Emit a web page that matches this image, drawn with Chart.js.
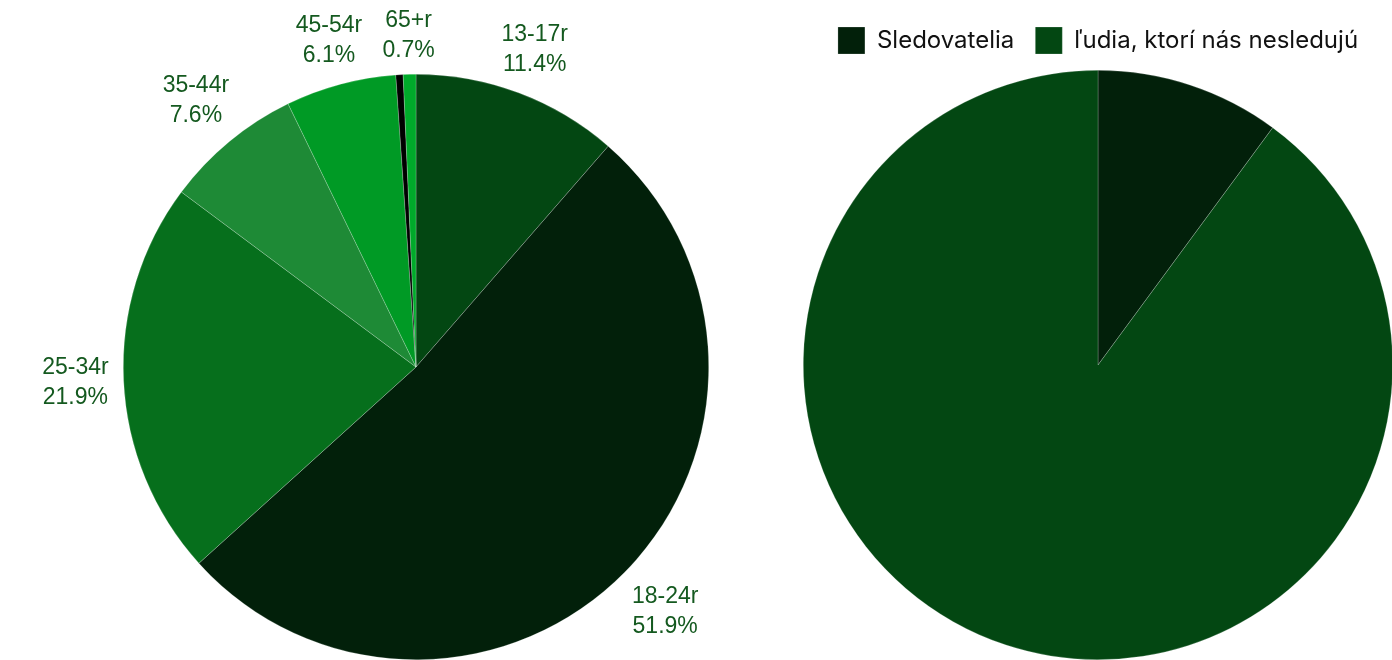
<!DOCTYPE html>
<html>
<head>
<meta charset="utf-8">
<script src="https://cdn.jsdelivr.net/npm/chart.js@4/dist/chart.umd.min.js"></script>
<style>
  html, body { margin: 0; padding: 0; background: #fff; }
  body { width: 1392px; height: 660px; position: relative; overflow: hidden; }
  #ageBox { position: absolute; left: 0; top: 0; width: 832px; height: 660px; }
  #reachBox { position: absolute; left: 803px; top: 0; width: 590px; height: 660px; }
</style>
</head>
<body>
<div id="ageBox"><canvas id="age"></canvas></div>
<div id="reachBox"><canvas id="reach"></canvas></div>
<script>
// vekove skupiny (left pie), the unlabeled black sliver has no name
var ageLabels = ['13-17r', '18-24r', '25-34r', '35-44r', '45-54r', '', '65+r'];
var ageValues = [11.4, 51.9, 21.9, 7.6, 6.1, 0.4, 0.7];
var ageColors = ['#034712', '#02200a', '#066f1c', '#1e8a36', '#009a25', '#000000', '#00aa2a'];

// dosah (right pie)
var reachLabels = ['Sledovatelia', 'ľudia, ktorí nás nesledujú'];
var reachValues = [10.1, 89.9];
var reachColors = ['#02200a', '#034712'];

// draws "name / xx.x%" outside each slice, box pushed out from the rim
var outsideLabels = {
  id: 'outsideLabels',
  afterDatasetsDraw: function(chart) {
    var ctx = chart.ctx;
    var meta = chart.getDatasetMeta(0);
    ctx.save();
    ctx.font = '23px "Liberation Sans", Arial, sans-serif';
    ctx.fillStyle = '#14591f';
    ctx.textAlign = 'center';
    ctx.textBaseline = 'middle';
    meta.data.forEach(function(arc, i) {
      if (!ageLabels[i]) return;
      var top = ageLabels[i];
      var bottom = ageValues[i].toFixed(1) + '%';
      var hw = Math.max(ctx.measureText(top).width, ctx.measureText(bottom).width) / 2;
      var hh = 29;
      var mid = (arc.startAngle + arc.endAngle) / 2;
      var vx = Math.cos(mid), vy = Math.sin(mid);
      var push = Math.min(Math.abs(vx) > 1e-6 ? hw / Math.abs(vx) : 1e9,
                          Math.abs(vy) > 1e-6 ? hh / Math.abs(vy) : 1e9);
      var r = arc.outerRadius + 15 + push;
      var x = arc.x + vx * r;
      var y = Math.max(arc.y + vy * r, 36);
      ctx.fillText(top, x, y - 15);
      ctx.fillText(bottom, x, y + 15);
    });
    ctx.restore();
  }
};

// a bit more room under the legend
var legendSpace = {
  id: 'legendSpace',
  beforeInit: function(chart) {
    var fit = chart.legend.fit;
    chart.legend.fit = function() {
      fit.bind(chart.legend)();
      this.height += 6;
    };
  }
};

window.onload = function() {
  new Chart(document.getElementById('age').getContext('2d'), {
    type: 'pie',
    data: {
      labels: ageLabels,
      datasets: [{
        data: ageValues,
        backgroundColor: ageColors,
        borderColor: 'rgba(255,255,255,0.35)',
        borderWidth: 0.6
      }]
    },
    options: {
      responsive: true,
      maintainAspectRatio: false,
      animation: false,
      layout: { padding: { top: 74, bottom: 0, left: 123, right: 123 } },
      plugins: { legend: { display: false }, tooltip: { enabled: false } }
    },
    plugins: [outsideLabels]
  });

  new Chart(document.getElementById('reach').getContext('2d'), {
    type: 'pie',
    data: {
      labels: reachLabels,
      datasets: [{
        data: reachValues,
        backgroundColor: reachColors,
        borderColor: 'rgba(255,255,255,0.35)',
        borderWidth: 0.6
      }]
    },
    options: {
      responsive: true,
      maintainAspectRatio: false,
      animation: false,
      layout: { padding: { top: 6, bottom: 0, left: 0, right: 0 } },
      plugins: {
        tooltip: { enabled: false },
        legend: {
          position: 'top',
          labels: {
            boxWidth: 27,
            boxHeight: 27,
            padding: 21,
            color: '#111',
            font: { family: 'Inter, "Noto Sans", sans-serif', size: 24 }
          }
        }
      }
    },
    plugins: [legendSpace]
  });
};
</script>
</body>
</html>
